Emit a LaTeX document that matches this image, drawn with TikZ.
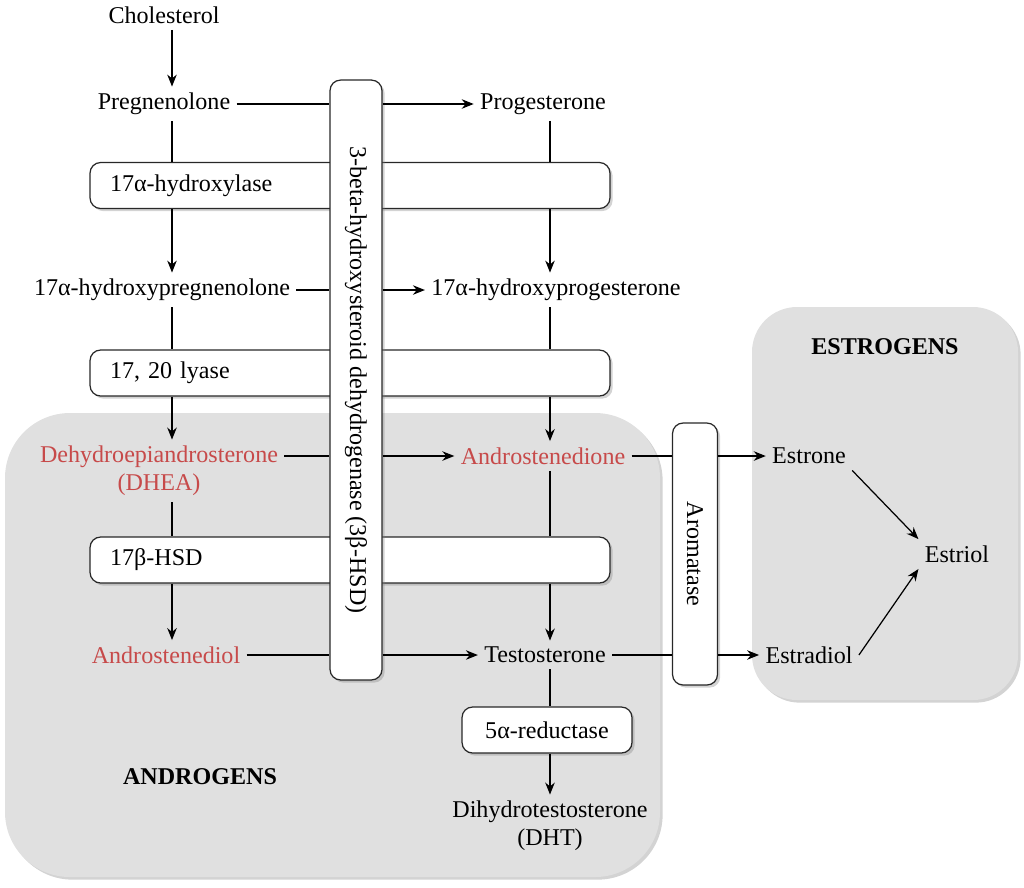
\documentclass[tikz,border=0pt]{standalone}
\usepackage{fontspec}
\setmainfont{Liberation Serif}
\usetikzlibrary{arrows.meta,shadows}
\definecolor{andred}{RGB}{199,74,74}
\definecolor{grpgray}{RGB}{224,224,224}
\definecolor{boxline}{RGB}{40,40,40}
\newcommand{\chemfont}{\fontsize{13.7}{16}\selectfont}

\begin{document}
\begin{tikzpicture}[x=0.02cm, y=-0.02cm, line width=0.7pt,
  >={Stealth[length=2.4mm,width=1.9mm]},
  chem/.style={font=\chemfont, align=center},
  redchem/.style={chem, text=andred},
  grouptitle/.style={font=\chemfont\bfseries},
  softshadow/.style={drop shadow={shadow xshift=1.5pt, shadow yshift=-1.5pt, opacity=0.35}},
  enzbar/.style={draw=boxline, fill=white, rounded corners=6pt, softshadow, font=\chemfont, minimum height=0.92cm, text width=9.6cm, inner xsep=0.4cm, align=left},
  enzbox/.style={draw=boxline, fill=white, rounded corners=6pt, softshadow, font=\chemfont, minimum height=0.92cm, minimum width=3.4cm},
  vbar/.style={draw=boxline, fill=white, rounded corners=6pt, softshadow, font=\chemfont, inner sep=0pt}]

\useasboundingbox (0,0) rectangle (1024,887);
% androgen and estrogen areas
\fill[grpgray, rounded corners=1.3cm, softshadow] (5,413) rectangle (660,877);
\fill[grpgray, rounded corners=0.9cm, softshadow] (752,307) rectangle (1018,700);

% enzyme bars
\node[enzbar] (hydrox) at (350,185.5) {17α-hydroxylase};
\node[enzbar] (lyase) at (350,373) {17, 20 lyase};
\node[enzbar] (hsdb) at (350,560) {17β-HSD};
\node[enzbox] (red5) at (547,730) {5α-reductase};
\node[vbar, minimum width=1.04cm, minimum height=12cm] (hsd) at (356,380) {\rotatebox{-90}{3-beta-hydroxysteroid dehydrogenase (3β-HSD)}};
\node[vbar, minimum width=0.9cm, minimum height=5.24cm] (arom) at (695,554) {\rotatebox{-90}{Aromatase}};

% steroids
\node[chem] (chol) at (164,15) {Cholesterol};
\node[chem] (preg) at (164,104) {Pregnenolone};
\node[chem] (prog) at (543,104) {Progesterone};
\node[chem] (ohpreg) at (162,290) {17α-hydroxypregnenolone};
\node[chem] (ohprog) at (556,290) {17α-hydroxyprogesterone};
\node[redchem] (dhea) at (159,471) {Dehydroepiandrosterone\\(DHEA)};
\node[redchem] (dione) at (543,456) {Androstenedione};
\node[redchem] (diol) at (166,655) {Androstenediol};
\node[chem] (testo) at (545,655) {Testosterone};
\node[chem] (dht) at (550,826) {Dihydrotestosterone\\(DHT)};
\node[chem] (estrone) at (809,456) {Estrone};
\node[chem] (estradiol) at (809,655) {Estradiol};
\node[chem] (estriol) at (957,554) {Estriol};
\node[grouptitle] (andro) at (200,777) {ANDROGENS};
\node[grouptitle] (estro) at (885,347) {ESTROGENS};

\coordinate (lcol) at (172,0);
\coordinate (rcol) at (550,0);

% left column
\draw[->] (chol.south -| lcol) -- (preg.north -| lcol);
\draw (preg.south -| lcol) -- (hydrox.north -| lcol);
\draw[->] (hydrox.south -| lcol) -- (ohpreg.north -| lcol);
\draw (ohpreg.south -| lcol) -- (lyase.north -| lcol);
\draw[->] (lyase.south -| lcol) -- (dhea.north -| lcol);
\draw (dhea.south -| lcol) -- (hsdb.north -| lcol);
\draw[->] (hsdb.south -| lcol) -- (diol.north -| lcol);
% right column
\draw (prog.south -| rcol) -- (hydrox.north -| rcol);
\draw[->] (hydrox.south -| rcol) -- (ohprog.north -| rcol);
\draw (ohprog.south -| rcol) -- (lyase.north -| rcol);
\draw[->] (lyase.south -| rcol) -- (dione.north -| rcol);
\draw (dione.south -| rcol) -- (hsdb.north -| rcol);
\draw[->] (hsdb.south -| rcol) -- (testo.north -| rcol);
\draw (testo.south -| rcol) -- (red5.north -| rcol);
\draw[->] (red5.south -| rcol) -- (dht.north -| rcol);
% through 3beta-HSD
\draw (preg) -- (preg -| hsd.west);
\draw[->] (preg -| hsd.east) -- (prog);
\draw (ohpreg) -- (ohpreg -| hsd.west);
\draw[->] (ohpreg -| hsd.east) -- (ohprog);
\draw (dione -| dhea.east) -- (dione -| hsd.west);
\draw[->] (dione -| hsd.east) -- (dione);
\draw (diol) -- (diol -| hsd.west);
\draw[->] (diol -| hsd.east) -- (testo);
% through aromatase
\draw (dione) -- (dione -| arom.west);
\draw[->] (dione -| arom.east) -- (estrone);
\draw (testo) -- (testo -| arom.west);
\draw[->] (testo -| arom.east) -- (estradiol);
\draw[->] (estrone.south east) -- (estriol.north west);
\draw[->] (estradiol.east) -- (estriol.south west);
\end{tikzpicture}
\end{document}
